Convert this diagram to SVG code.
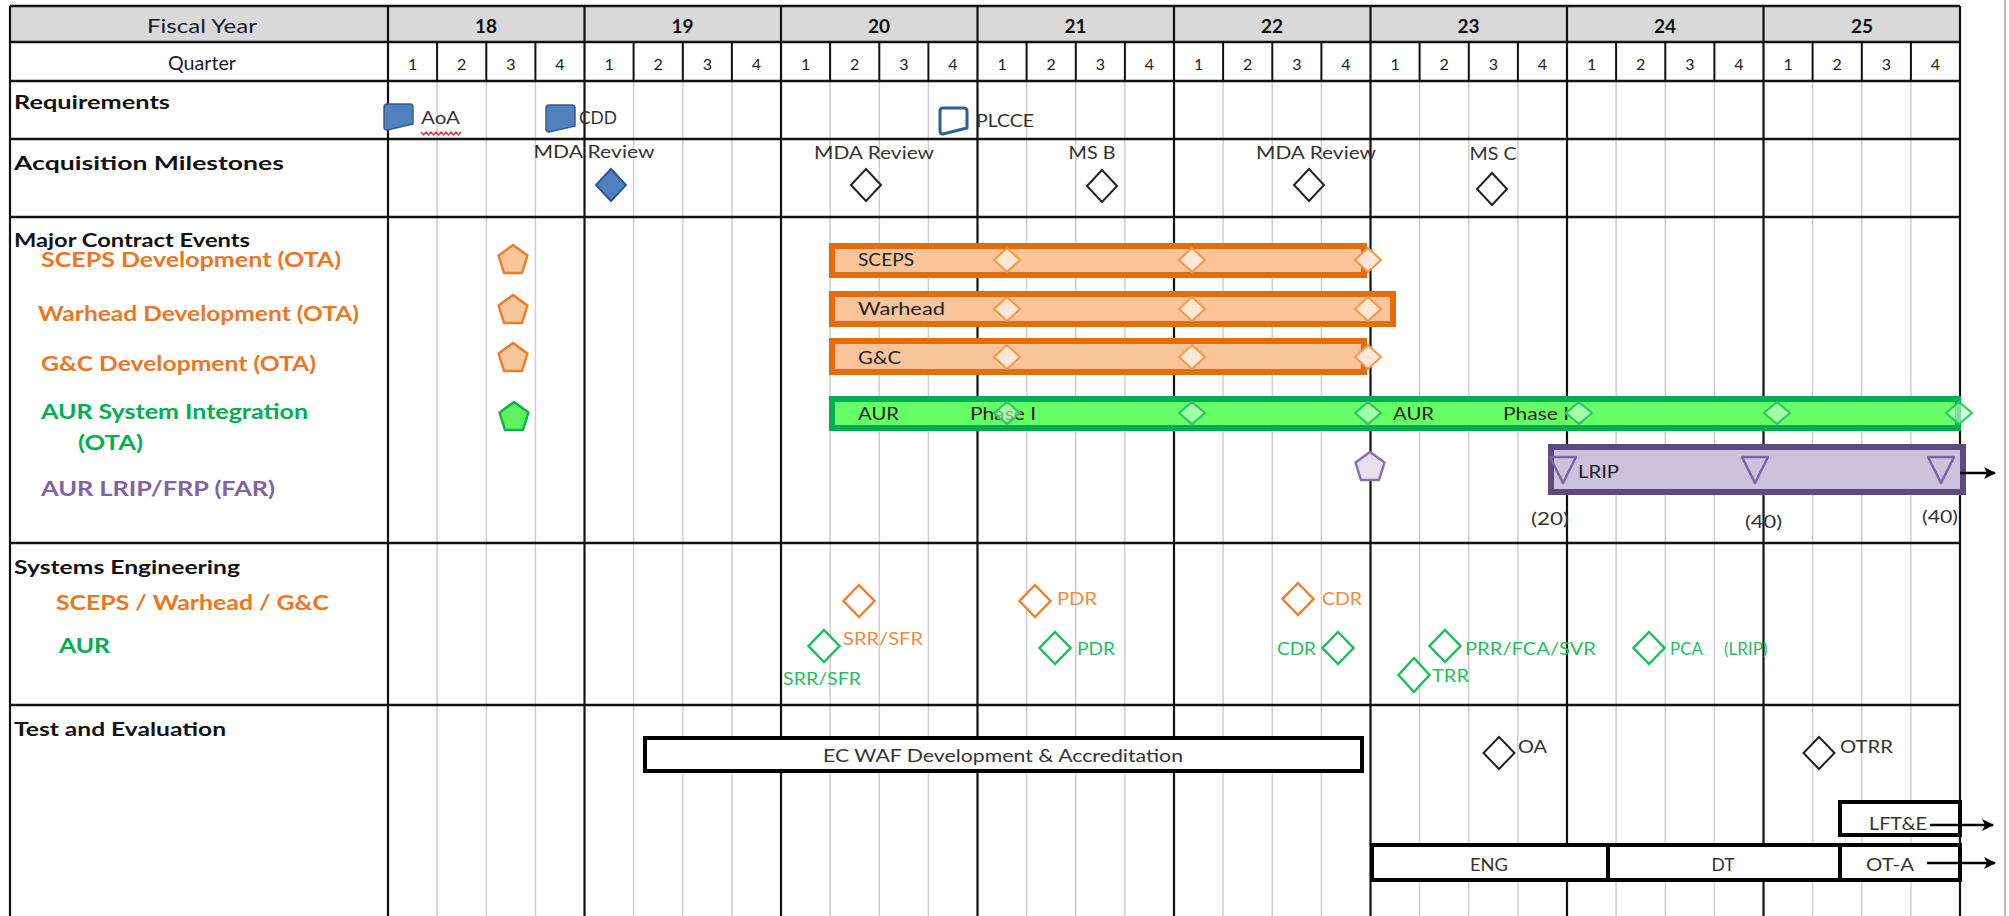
<svg xmlns="http://www.w3.org/2000/svg" width="2009" height="916" viewBox="0 0 2009 916">
<defs>
<marker id="arr" viewBox="0 0 12 12" refX="11" refY="6" markerWidth="12" markerHeight="12" markerUnits="userSpaceOnUse" orient="auto">
<path d="M0,0 L12,6 L0,12 L3,6 Z" fill="#000"/>
</marker>
<style>
text{font-family:Lato,"Liberation Sans",sans-serif}
.hd{font-size:19px;fill:#1a1a2e}
.yr{font-size:19px;font-weight:700;fill:#111;text-anchor:middle}
.qn{font-size:16px;fill:#222;text-anchor:middle}
.rh{font-size:19px;font-weight:700;fill:#111}
.sm{font-size:18px;fill:#333}
.bt{font-size:17px;fill:#222}
.or{font-size:20px;font-weight:700;fill:#ec7622}
.gr{font-size:20px;font-weight:700;fill:#00b050}
.pu{font-size:20px;font-weight:700;fill:#7f64a2}
.seo{font-size:17px;fill:#f08a3c}
.seg{font-size:17px;fill:#1fbf5f}
.req{fill:#4f81bd;stroke:#385d8a;stroke-width:1.5;stroke-linejoin:round}
.ms{fill:#fff;stroke:#222;stroke-width:2}
.pent-o{fill:#f9c59a;stroke:#ec7d2b;stroke-width:2.5;stroke-linejoin:round}
.pent-g{fill:#5cf35c;stroke:#14b04a;stroke-width:2.5;stroke-linejoin:round}
.pent-p{fill:#e6e0ee;stroke:#8a72aa;stroke-width:2.5;stroke-linejoin:round}
.bar-o{fill:#f9c49a;stroke:#e46c0a;stroke-width:6}
.bar-g{fill:#66ff66;stroke:#00b050;stroke-width:6}
.bar-p{fill:#ccc1da;stroke:#5f4a80;stroke-width:6}
.bd-o{fill:#fde8d8;stroke:#f79646;stroke-width:2}
.bd-g{fill:#ccffcc;fill-opacity:0.6;stroke:#2fc860;stroke-width:2.2}
.tri{fill:none;stroke:#7f64a3;stroke-width:2.5;stroke-linejoin:round}
.sd-o{fill:#fff;stroke:#f0802c;stroke-width:2.5}
.sd-g{fill:#fff;stroke:#1cbf5c;stroke-width:2.5}
.box{fill:#fff;stroke:#000;stroke-width:4}
.conn{stroke:#000;stroke-width:2.5;fill:none}
</style>
</defs>
<rect width="2009" height="916" fill="#fff"/>
<line x1="2005" y1="0" x2="2005" y2="916" stroke="#bdbdbd" stroke-width="2"/>

<g id="grid">
<rect x="10" y="6" width="1950" height="36" fill="#d9d9d9"/>
<path d="M437.1 81V916M486.3 81V916M535.4 81V916M633.6 81V916M682.8 81V916M731.9 81V916M830.1 81V916M879.3 81V916M928.4 81V916M1026.6 81V916M1075.8 81V916M1124.9 81V916M1223.1 81V916M1272.3 81V916M1321.4 81V916M1419.6 81V916M1468.8 81V916M1517.9 81V916M1616.1 81V916M1665.3 81V916M1714.4 81V916M1812.6 81V916M1861.8 81V916M1910.9 81V916" stroke="#cfcfcf" stroke-width="1.5" fill="none"/>
<path d="M437.1 42V81M486.3 42V81M535.4 42V81M633.6 42V81M682.8 42V81M731.9 42V81M830.1 42V81M879.3 42V81M928.4 42V81M1026.6 42V81M1075.8 42V81M1124.9 42V81M1223.1 42V81M1272.3 42V81M1321.4 42V81M1419.6 42V81M1468.8 42V81M1517.9 42V81M1616.1 42V81M1665.3 42V81M1714.4 42V81M1812.6 42V81M1861.8 42V81M1910.9 42V81" stroke="#111" stroke-width="2" fill="none"/>
<path d="M388 6V916M584.5 6V916M781 6V916M977.5 6V916M1174 6V916M1370.5 6V916M1567 6V916M1763.5 6V916M1960 6V916M10 6V916" stroke="#111" stroke-width="2.2" fill="none"/>
<path d="M10 6H1960M10 42H1960M10 81H1960M10 139H1960M10 217H1960M10 543H1960M10 705H1960" stroke="#111" stroke-width="2.5" fill="none"/>
</g>

<g id="header">
<text class="hd" x="202" y="33" text-anchor="middle" textLength="110" lengthAdjust="spacingAndGlyphs">Fiscal Year</text>
<text class="hd" x="202" y="70" text-anchor="middle" textLength="68" lengthAdjust="spacingAndGlyphs">Quarter</text>
<text class="yr" x="486" y="33">18</text>
<text class="yr" x="682.5" y="33">19</text>
<text class="yr" x="879" y="33">20</text>
<text class="yr" x="1075.5" y="33">21</text>
<text class="yr" x="1272" y="33">22</text>
<text class="yr" x="1468.5" y="33">23</text>
<text class="yr" x="1665" y="33">24</text>
<text class="yr" x="1862" y="33">25</text>
<text class="qn" x="412.6" y="70">1</text><text class="qn" x="461.7" y="70">2</text><text class="qn" x="510.8" y="70">3</text><text class="qn" x="560" y="70">4</text>
<text class="qn" x="609.1" y="70">1</text><text class="qn" x="658.2" y="70">2</text><text class="qn" x="707.3" y="70">3</text><text class="qn" x="756.4" y="70">4</text>
<text class="qn" x="805.6" y="70">1</text><text class="qn" x="854.7" y="70">2</text><text class="qn" x="903.8" y="70">3</text><text class="qn" x="952.9" y="70">4</text>
<text class="qn" x="1002.1" y="70">1</text><text class="qn" x="1051.2" y="70">2</text><text class="qn" x="1100.3" y="70">3</text><text class="qn" x="1149.4" y="70">4</text>
<text class="qn" x="1198.6" y="70">1</text><text class="qn" x="1247.7" y="70">2</text><text class="qn" x="1296.8" y="70">3</text><text class="qn" x="1345.9" y="70">4</text>
<text class="qn" x="1395.1" y="70">1</text><text class="qn" x="1444.2" y="70">2</text><text class="qn" x="1493.3" y="70">3</text><text class="qn" x="1542.4" y="70">4</text>
<text class="qn" x="1591.6" y="70">1</text><text class="qn" x="1640.7" y="70">2</text><text class="qn" x="1689.8" y="70">3</text><text class="qn" x="1738.9" y="70">4</text>
<text class="qn" x="1788.1" y="70">1</text><text class="qn" x="1837.2" y="70">2</text><text class="qn" x="1886.3" y="70">3</text><text class="qn" x="1935.4" y="70">4</text>
</g>

<g id="row-labels">
<text class="rh" x="14" y="109" textLength="156" lengthAdjust="spacingAndGlyphs">Requirements</text>
<text class="rh" x="14" y="170" textLength="270" lengthAdjust="spacingAndGlyphs">Acquisition Milestones</text>
<text class="rh" x="14" y="247" textLength="236" lengthAdjust="spacingAndGlyphs">Major Contract Events</text>
<text class="or" x="41" y="267" textLength="300" lengthAdjust="spacingAndGlyphs">SCEPS Development (OTA)</text>
<text class="or" x="38" y="321" textLength="321" lengthAdjust="spacingAndGlyphs">Warhead Development (OTA)</text>
<text class="or" x="41" y="371" textLength="275" lengthAdjust="spacingAndGlyphs">G&amp;C Development (OTA)</text>
<text class="gr" x="41" y="419" textLength="267" lengthAdjust="spacingAndGlyphs">AUR System Integration</text>
<text class="gr" x="78" y="450" textLength="65" lengthAdjust="spacingAndGlyphs">(OTA)</text>
<text class="pu" x="41" y="496" textLength="234" lengthAdjust="spacingAndGlyphs">AUR LRIP/FRP (FAR)</text>
<text class="rh" x="14" y="574" textLength="226" lengthAdjust="spacingAndGlyphs">Systems Engineering</text>
<text class="or" x="56" y="610" textLength="273" lengthAdjust="spacingAndGlyphs">SCEPS / Warhead / G&amp;C</text>
<text class="gr" x="59" y="653" textLength="51" lengthAdjust="spacingAndGlyphs">AUR</text>
<text class="rh" x="14" y="736" textLength="212" lengthAdjust="spacingAndGlyphs">Test and Evaluation</text>
</g>

<g id="req-aoa">
<path class="req" d="M387 104H410Q413 104 413 107V124L387 130Q384 130 384 127V107Q384 104 387 104Z"/>
<text class="sm" x="421" y="124" textLength="39" lengthAdjust="spacingAndGlyphs">AoA</text>
<path d="M421 132l2.5 3l2.5-3l2.5 3l2.5-3l2.5 3l2.5-3l2.5 3l2.5-3l2.5 3l2.5-3l2.5 3l2.5-3l2.5 3l2.5-3l2.5 3l2.5-3" fill="none" stroke="#e53030" stroke-width="1.3"/>
</g>
<g id="req-cdd">
<path class="req" d="M549 105H572Q575 105 575 108V126L549 132Q546 132 546 129V108Q546 105 549 105Z"/>
<text class="sm" x="579" y="124" textLength="38" lengthAdjust="spacingAndGlyphs">CDD</text>
</g>
<g id="req-plcce">
<path d="M943 108H964Q967 108 967 111V128L943 134Q940 134 940 131V111Q940 108 943 108Z" fill="#fff" stroke="#2f5d9a" stroke-width="3" stroke-linejoin="round"/>
<text class="sm" x="976" y="127" textLength="58" lengthAdjust="spacingAndGlyphs">PLCCE</text>
</g>

<g id="ms-mda1">
<text class="sm" x="594" y="158" text-anchor="middle" textLength="121" lengthAdjust="spacingAndGlyphs">MDA Review</text>
<path d="M611 169L626 185L611 201L596 185Z" fill="#4f81bd" stroke="#2f5597" stroke-width="2"/>
</g>
<g id="ms-mda2">
<text class="sm" x="874" y="159" text-anchor="middle" textLength="120" lengthAdjust="spacingAndGlyphs">MDA Review</text>
<path class="ms" d="M866 169L881 185L866 201L851 185Z"/>
</g>
<g id="ms-b">
<text class="sm" x="1092" y="159" text-anchor="middle" textLength="47" lengthAdjust="spacingAndGlyphs">MS B</text>
<path class="ms" d="M1102 170L1117 186L1102 202L1087 186Z"/>
</g>
<g id="ms-mda3">
<text class="sm" x="1316" y="159" text-anchor="middle" textLength="120" lengthAdjust="spacingAndGlyphs">MDA Review</text>
<path class="ms" d="M1309 169L1324 185L1309 201L1294 185Z"/>
</g>
<g id="ms-c">
<text class="sm" x="1493" y="160" text-anchor="middle" textLength="47" lengthAdjust="spacingAndGlyphs">MS C</text>
<path class="ms" d="M1492 173L1507 189L1492 205L1477 189Z"/>
</g>

<g id="start-pentagons">
<path class="pent-o" d="M513 245L527.5 255.5L522 273L504 273L498.5 255.5Z"/>
<path class="pent-o" d="M513 295L527.5 305.5L522 323L504 323L498.5 305.5Z"/>
<path class="pent-o" d="M513 343L527.5 353.5L522 371L504 371L498.5 353.5Z"/>
<path class="pent-g" d="M514 402L528.5 412.5L523 430L505 430L499.5 412.5Z"/>
<path class="pent-p" d="M1370 452L1384.5 462.5L1379 480L1361 480L1355.5 462.5Z"/>
</g>

<g id="bar-sceps">
<rect class="bar-o" x="832" y="246" width="532" height="29"/>
<text class="bt" x="858" y="266" textLength="56" lengthAdjust="spacingAndGlyphs">SCEPS</text>
<path class="bd-o" d="M1007 248L1020 260L1007 272L994 260Z M1192 248L1205 260L1192 272L1179 260Z M1368 248L1381 260L1368 272L1355 260Z"/>
</g>
<g id="bar-warhead">
<rect class="bar-o" x="832" y="294" width="561" height="30"/>
<text class="bt" x="858" y="315" textLength="87" lengthAdjust="spacingAndGlyphs">Warhead</text>
<path class="bd-o" d="M1007 297L1020 309L1007 321L994 309Z M1192 297L1205 309L1192 321L1179 309Z M1368 297L1381 309L1368 321L1355 309Z"/>
</g>
<g id="bar-gc">
<rect class="bar-o" x="832" y="341" width="532" height="31"/>
<text class="bt" x="858" y="364" textLength="43" lengthAdjust="spacingAndGlyphs">G&amp;C</text>
<path class="bd-o" d="M1007 345L1020 357L1007 369L994 357Z M1192 345L1205 357L1192 369L1179 357Z M1368 345L1381 357L1368 369L1355 357Z"/>
</g>
<g id="bar-aur">
<rect class="bar-g" x="832" y="399" width="1126" height="29"/>
<text class="bt" x="858" y="420" textLength="41" lengthAdjust="spacingAndGlyphs">AUR</text>
<text class="bt" x="970" y="420" textLength="66" lengthAdjust="spacingAndGlyphs">Phase I</text>
<text class="bt" x="1393" y="420" textLength="41" lengthAdjust="spacingAndGlyphs">AUR</text>
<text class="bt" x="1503" y="420" textLength="66" lengthAdjust="spacingAndGlyphs">Phase I</text>
<path class="bd-g" d="M1007 402L1020 413L1007 424L994 413Z M1192 402L1205 413L1192 424L1179 413Z M1368 402L1381 413L1368 424L1355 413Z M1579 402L1592 413L1579 424L1566 413Z M1777 402L1790 413L1777 424L1764 413Z M1959 402L1972 413L1959 424L1946 413Z"/>
</g>
<g id="bar-lrip">
<rect class="bar-p" x="1551" y="447" width="412" height="45"/>
<path class="tri" d="M1550 457H1576L1563 483Z M1742 457H1768L1755 483Z M1928 457H1954L1941 483Z"/>
<text class="bt" x="1578" y="478" textLength="41" lengthAdjust="spacingAndGlyphs">LRIP</text>
<text class="sm" x="1531" y="525" textLength="38" lengthAdjust="spacingAndGlyphs">(20)</text>
<text class="sm" x="1745" y="528" textLength="37" lengthAdjust="spacingAndGlyphs">(40)</text>
<text class="sm" x="1922" y="523" textLength="36" lengthAdjust="spacingAndGlyphs">(40)</text>
</g>

<g id="se-scepswh">
<path class="sd-o" d="M859 585L874.5 601L859 617L843.5 601Z"/>
<text class="seo" x="843" y="645" textLength="80" lengthAdjust="spacingAndGlyphs">SRR/SFR</text>
<path class="sd-o" d="M1035 585L1050.5 601L1035 617L1019.5 601Z"/>
<text class="seo" x="1057" y="605" textLength="40" lengthAdjust="spacingAndGlyphs">PDR</text>
<path class="sd-o" d="M1298 583L1313.5 599L1298 615L1282.5 599Z"/>
<text class="seo" x="1322" y="605" textLength="40" lengthAdjust="spacingAndGlyphs">CDR</text>
</g>
<g id="se-aur">
<path class="sd-g" d="M824 630L839.5 646L824 662L808.5 646Z"/>
<text class="seg" x="783" y="685" textLength="78" lengthAdjust="spacingAndGlyphs">SRR/SFR</text>
<path class="sd-g" d="M1055 632L1070.5 648L1055 664L1039.5 648Z"/>
<text class="seg" x="1077" y="655" textLength="38" lengthAdjust="spacingAndGlyphs">PDR</text>
<text class="seg" x="1277" y="655" textLength="39" lengthAdjust="spacingAndGlyphs">CDR</text>
<path class="sd-g" d="M1338 632L1353.5 648L1338 664L1322.5 648Z"/>
<path class="sd-g" d="M1445 630L1460.5 646L1445 662L1429.5 646Z"/>
<text class="seg" x="1465" y="655" textLength="131" lengthAdjust="spacingAndGlyphs">PRR/FCA/SVR</text>
<path class="sd-g" d="M1414 658L1429.5 675L1414 692L1398.5 675Z"/>
<text class="seg" x="1432" y="682" textLength="37" lengthAdjust="spacingAndGlyphs">TRR</text>
<path class="sd-g" d="M1649 632L1664.5 648L1649 664L1633.5 648Z"/>
<text class="seg" x="1670" y="655">PCA<tspan x="1724">(LRIP)</tspan></text>
</g>

<g id="te-ecwaf">
<rect class="box" x="645" y="738" width="717" height="33"/>
<text class="sm" x="1003" y="762" text-anchor="middle" textLength="360" lengthAdjust="spacingAndGlyphs">EC WAF Development &amp; Accreditation</text>
</g>
<g id="te-oa">
<path class="ms" d="M1499 737L1514.5 753L1499 769L1483.5 753Z"/>
<text class="sm" x="1518" y="753" textLength="29" lengthAdjust="spacingAndGlyphs">OA</text>
</g>
<g id="te-otrr">
<path class="ms" d="M1819 737L1834.5 753L1819 769L1803.5 753Z"/>
<text class="sm" x="1840" y="753" textLength="53" lengthAdjust="spacingAndGlyphs">OTRR</text>
</g>
<g id="te-lfte">
<rect class="box" x="1840" y="802" width="120" height="33"/>
<text class="sm" x="1869" y="830" textLength="58" lengthAdjust="spacingAndGlyphs">LFT&amp;E</text>
</g>
<g id="te-eng">
<rect class="box" x="1372" y="845" width="236" height="35"/>
<text class="sm" x="1489" y="871" text-anchor="middle" textLength="38" lengthAdjust="spacingAndGlyphs">ENG</text>
</g>
<g id="te-dt">
<rect class="box" x="1608" y="845" width="232" height="35"/>
<text class="sm" x="1723" y="871" text-anchor="middle" textLength="23" lengthAdjust="spacingAndGlyphs">DT</text>
</g>
<g id="te-ota">
<rect class="box" x="1840" y="845" width="120" height="35"/>
<text class="sm" x="1866" y="871" textLength="48" lengthAdjust="spacingAndGlyphs">OT-A</text>
</g>

<g id="connectors">
<line class="conn" x1="1960" y1="473" x2="1995" y2="473" marker-end="url(#arr)"/>
<line class="conn" x1="1930" y1="825" x2="1993" y2="825" marker-end="url(#arr)"/>
<line class="conn" x1="1927" y1="863" x2="1995" y2="863" marker-end="url(#arr)"/>
</g>
</svg>
